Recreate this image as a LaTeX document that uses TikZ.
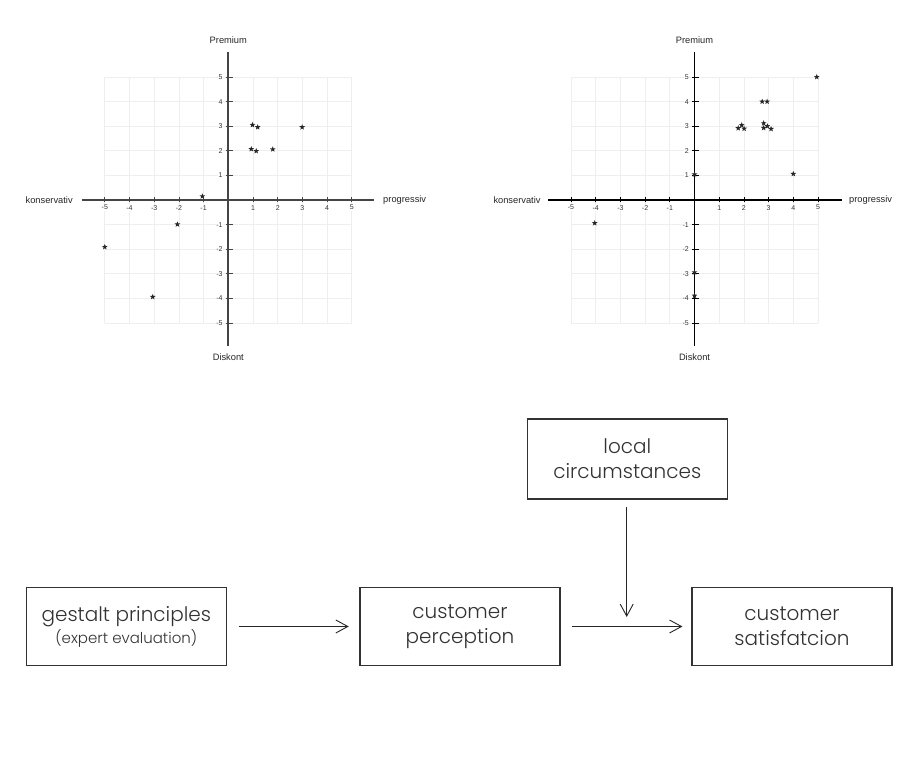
\documentclass[tikz,border=0pt]{standalone}
\usepackage{fontspec}
\setmainfont{Poppins}[UprightFont=* Light]
\newfontfamily\plotfont{Liberation Sans}
\usetikzlibrary{shapes.geometric,arrows.meta}
\definecolor{gridc}{HTML}{EEEEEE}
\definecolor{axL}{HTML}{454545}
\definecolor{boxc}{HTML}{333333}
\tikzset{
 gridline/.style={gridc, line width=0.8pt},
 tickl/.style={font=\plotfont\fontsize{7}{8}\selectfont, text=black!80, fill=white, inner sep=0.6pt},
 axlabel/.style={font=\plotfont\fontsize{9.3}{11}\selectfont, text=black!85, inner sep=0},
 datastar/.style={star, star points=5, star point ratio=2.4, fill=black!85, draw=none, minimum size=6pt, inner sep=0},
 box/.style={draw=boxc, line width=1.1pt, minimum width=200pt, minimum height=78pt, align=center, inner sep=0, font=\fontsize{20}{25}\selectfont, text=black!80},
 arr/.style={draw=black!85, line width=0.9pt, -{Straight Barb[length=12pt,width=13pt,line width=0.9pt]}},
}
% #1 prefix, #2 axis colour, #3 axis width, #4 left end, #5 right end, #6 left gap, #7 right gap
\newcommand\myplotframe[7]{%
  \foreach \i in {-5,...,5} {
    \draw[gridline] (\i,-5) -- (\i,5);
    \draw[gridline] (-5,\i) -- (5,\i);
  }
  \foreach \i in {-5,...,-1,1,2,3,4,5} {
    \node[tickl] (#1xt\i) at (\i,-0.31) {\i};
    \node[tickl, anchor=east] (#1yt\i) at (-0.2,\i) {\i};
  }
  \coordinate (#1W) at (#4,0);
  \coordinate (#1E) at (#5,0);
  \coordinate (#1N) at (0,6.03);
  \coordinate (#1S) at (0,-5.93);
  \draw[#2, line width=#3] (#1W) -- (#1E);
  \draw[#2, line width=#3] (#1S) -- (#1N);
  \foreach \i in {-5,...,-1,1,2,3,4,5} {
    \draw[#2, line width=0.8pt] (\i,-0.1) -- (\i,0.13);
    \draw[#2, line width=0.8pt] (-0.1,\i) -- (0.17,\i);
  }
  \node[axlabel, anchor=east, xshift=-#6] (#1kon) at (#1W) {konservativ};
  \node[axlabel, anchor=west, xshift=#7] (#1pro) at (#1E) {progressiv};
  \node[axlabel] (#1pre) at (0,6.5) {Premium};
  \node[axlabel] (#1dis) at (0,-6.38) {Diskont};
}
\begin{document}
\begin{tikzpicture}[x=1pt,y=-1pt]
\path[use as bounding box, fill=white] (0,0) rectangle (920,767);

\begin{scope}[shift={(228.3,200)}, x=24.7pt, y=24.6pt]
  \myplotframe{L}{axL}{1.9pt}{-5.94}{5.9}{8.7pt}{9pt}
  \foreach \a/\b [count=\k] in {0.98/3.05, 1.19/2.96, 2.99/2.96, 0.93/2.07, 1.13/1.99, 1.8/2.06, -1.05/0.15, -2.06/-0.99, -5/-1.91, -3.06/-3.94}
    \node[datastar] (sL\k) at (\a,\b) {};
\end{scope}

\begin{scope}[shift={(694.5,200)}, x=24.7pt, y=24.6pt]
  \myplotframe{R}{black}{1.5pt}{-5.93}{5.97}{7.3pt}{7pt}
  \foreach \a/\b [count=\k] in {4.95/5, 2.74/4, 2.94/4, 1.91/3.04, 1.77/2.92, 2.01/2.9, 2.8/3.12, 2.95/3.0, 2.8/2.93, 3.1/2.89, 4/1.06, 0/1.04, -4.04/-0.94, 0/-2.94, 0/-3.89}
    \node[datastar] (sR\k) at (\a,\b) {};
\end{scope}

\node[box, minimum height=80pt] (local) at (627.3,459) {local\\circumstances};
\node[box] (gest) at (126.3,626.5) {gestalt principles\\[-3pt]{\fontsize{15}{18}\selectfont (expert evaluation)}};
\node[box] (perc) at (460,626.5) {customer\\perception};
\node[box] (sat) at (792,626.5) {customer\\satisfatcion};

\coordinate (tip) at (626.7,617);
\draw[arr] ([xshift=11.7pt]gest.east) -- ([xshift=-10.7pt]perc.west);
\draw[arr] ([xshift=11.7pt]perc.east) -- ([xshift=-9pt]sat.west);
\draw[arr] ([yshift=-7pt]local.south -| tip) -- (tip);
\end{tikzpicture}
\end{document}
